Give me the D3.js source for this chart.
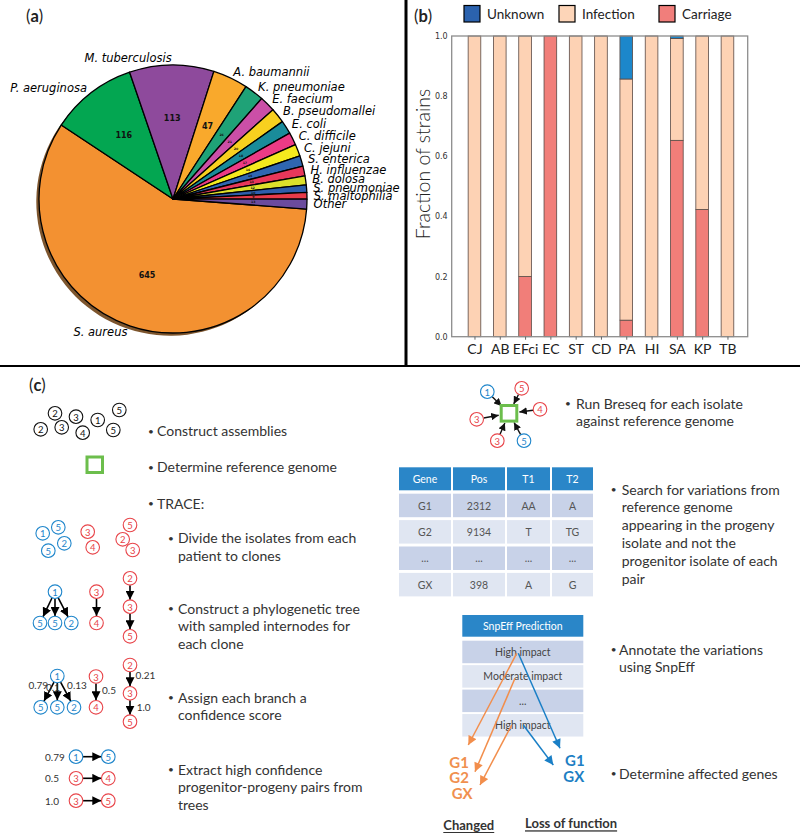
<!DOCTYPE html>
<html><head><meta charset="utf-8">
<script src="https://cdn.jsdelivr.net/npm/d3@7"></script>
<style>body{margin:0;background:#fff}svg{display:block}</style>
</head><body>
<svg id="fig" width="800" height="833"></svg>
<script>
// ---------- DATA ----------
const species = ["S. aureus","P. aeruginosa","M. tuberculosis","A. baumannii","K. pneumoniae","E. faecium","B. pseudomallei","E. coli","C. difficile","C. jejuni","S. enterica","H. influenzae","B. dolosa","S. pneumoniae","S. maltophilia","Other"];
const strainCounts = [645,116,113,47,26,21,20,18,17,16,14,13,12,10,9,13];
const speciesColors = ["#F39131","#03A651","#8E4A9C","#F9A92C","#1FA277","#CB4FA7","#F8D01F","#1A8C9A","#EC3B85","#F5EA1E","#2F67B1","#E8375A","#DCE02B","#2E5EAB","#E83B49","#6B4B9D"];

const barCategories = ["CJ","AB","EFci","EC","ST","CD","PA","HI","SA","KP","TB"];
const carriage  = [0,0,0.20,1,0,0,0.055,0,0.653,0.423,0];
const infection = [1,1,0.80,0,1,1,0.802,1,0.339,0.577,1];
const unknown   = [0,0,0,0,0,0,0.143,0,0.008,0,0];
const seriesNames = ["Unknown","Infection","Carriage"];
const yTicks = [0,0.2,0.4,0.6,0.8,1.0];

const tableHeader = ["Gene","Pos","T1","T2"];
const tableRows = [["G1","2312","AA","A"],["G2","9134","T","TG"],["...","...","...","..."],["GX","398","A","G"]];
const snpEffHeader = "SnpEff Prediction";
const snpEffRows = ["High impact","Moderate impact","...","High impact"];

// ---------- SETUP ----------
const svg = d3.select("#fig");
const BLUE="#1F86CB", RED="#E8454A", ORANGE="#F28E4C", TXT="#333";
const defs = svg.append("defs");
function mk(id,color,w,h){
  defs.append("marker").attr("id",id).attr("viewBox","0 0 10 10").attr("refX",10).attr("refY",5)
    .attr("markerWidth",w).attr("markerHeight",h).attr("markerUnits","userSpaceOnUse").attr("orient","auto")
    .append("path").attr("d","M0,0L10,5L0,10Z").attr("fill",color);
}
mk("ahk","#000",9,9); mk("ahk2","#111",7.5,7.5); mk("aho",ORANGE,10,9); mk("ahb","#1A7FC6",10,9);

// separators
svg.append("line").attr("x1",406).attr("x2",406).attr("y1",0).attr("y2",366).attr("stroke","#000").attr("stroke-width",3);
svg.append("line").attr("x1",0).attr("x2",800).attr("y1",366).attr("y2",366).attr("stroke","#000").attr("stroke-width",2);

function panelLabel(x,y,l){
  const t=svg.append("text").attr("x",x).attr("y",y).attr("font-family","Lato").attr("font-size",16.5).attr("fill","#222");
  t.append("tspan").text("(");t.append("tspan").attr("font-weight","bold").text(l);t.append("tspan").text(")");
}
panelLabel(26,22,"a"); panelLabel(414,22,"b"); panelLabel(29,391,"c");

// ---------- (a) PIE ----------
const pieData = species.map((s,i)=>({name:s,v:strainCounts[i],c:speciesColors[i]}));
const startA = 94.3*Math.PI/180;
const pie = d3.pie().sort(null).value(d=>d.v).startAngle(startA).endAngle(startA+2*Math.PI);
const arcs = pie(pieData);
const R=134, cx=173, cy=199;
const arc = d3.arc().innerRadius(0).outerRadius(R);
svg.append("g").attr("transform",`translate(${cx-2.7},${cy+2.7})`).selectAll("path").data(arcs).join("path")
  .attr("d",arc).attr("fill",d=>d3.color(d.data.c).darker(2.2)).attr("opacity",0.9);
const pg = svg.append("g").attr("transform",`translate(${cx},${cy})`);
pg.selectAll("path").data(arcs).join("path").attr("d",arc).attr("fill",d=>d.data.c)
  .attr("stroke","#000").attr("stroke-width",1.3).attr("stroke-linejoin","round");
pg.selectAll("text.lab").data(arcs).join("text").attr("class","lab")
  .each(function(d){
    const m=(d.startAngle+d.endAngle)/2, x=Math.sin(m)*R*1.05, y=-Math.cos(m)*R*1.05;
    d3.select(this).attr("x",x).attr("y",y).attr("text-anchor",x>0?"start":"end");
  })
  .attr("dominant-baseline","central").attr("font-family","DejaVu Sans").attr("font-style","italic")
  .attr("font-size",11.5).attr("fill","#000").text(d=>d.data.name);
pg.selectAll("text.num").data(arcs).join("text").attr("class","num")
  .each(function(d){
    const m=(d.startAngle+d.endAngle)/2;
    d3.select(this).attr("x",Math.sin(m)*R*0.6).attr("y",-Math.cos(m)*R*0.6);
  })
  .attr("text-anchor","middle").attr("dominant-baseline","central").attr("font-family","DejaVu Sans")
  .attr("font-weight","bold").attr("font-size",d=>d.data.v>=40?8:3.2).attr("fill","#111").text(d=>d.data.v);

// ---------- (b) BARS ----------
const x = d3.scaleLinear().domain([-0.9,10.8]).range([451.7,747.7]);
const y = d3.scaleLinear().domain([0,1]).range([336.7,36]);
const rows = barCategories.map((c,i)=>({cat:c,i,Carriage:carriage[i],Infection:infection[i],Unknown:unknown[i]}));
const barColors = {Carriage:"#F17E79",Infection:"#FDD2B4",Unknown:"#1C87CB"};
const legendColors = {Carriage:"#F17E7B",Infection:"#FDD5B8",Unknown:"#2B62AE"};
const stacked = d3.stack().keys(["Carriage","Infection","Unknown"])(rows);
const bw = x(0.25)-x(-0.25);
const bg = svg.append("g");
stacked.forEach(s=>{
  bg.selectAll(null).data(s.filter(d=>d[1]-d[0]>0)).join("rect")
    .attr("x",d=>x(d.data.i)-bw/2).attr("width",bw).attr("y",d=>y(d[1])).attr("height",d=>y(d[0])-y(d[1]))
    .attr("fill",barColors[s.key]).attr("stroke","#5a4a45").attr("stroke-width",0.8);
});
svg.append("rect").attr("x",451.7).attr("y",36).attr("width",296).attr("height",300.7)
  .attr("fill","none").attr("stroke","#8d8d8d").attr("stroke-width",1.3);
const ya = svg.append("g").attr("transform","translate(451.7,0)")
  .call(d3.axisLeft(y).tickValues(yTicks).tickFormat(d3.format(".1f")).tickSize(0).tickPadding(4));
ya.select(".domain").remove();
ya.selectAll("text").attr("font-family","DejaVu Sans").attr("font-size",8).attr("fill","#333");
const xa = svg.append("g").attr("transform","translate(0,336.7)")
  .call(d3.axisBottom(x).tickValues(d3.range(barCategories.length)).tickFormat(i=>barCategories[i]).tickSize(3).tickPadding(4));
xa.select(".domain").remove();
xa.selectAll("line").attr("stroke","#666");
xa.selectAll("text").attr("font-family","Lato").attr("font-size",14).attr("fill","#222");
svg.append("text").attr("transform","translate(430,164) rotate(-90)").attr("text-anchor","middle")
  .attr("font-family","Lato").attr("font-weight",300).attr("font-size",19.5).attr("fill","#222").text("Fraction of strains");
const lx = [464,559,659];
seriesNames.forEach((n,i)=>{
  svg.append("rect").attr("x",lx[i]).attr("y",5.5).attr("width",16).attr("height",16.5)
    .attr("fill",legendColors[n]).attr("stroke","#000").attr("stroke-width",1.2);
  svg.append("text").attr("x",lx[i]+23).attr("y",14).attr("dominant-baseline","central")
    .attr("font-family","Lato").attr("font-size",13.5).attr("fill","#222").text(n);
});

// ---------- (c) WORKFLOW ----------
const cg = svg.append("g");
function node(x0,y0,t,col,r=6.8){
  cg.append("circle").attr("cx",x0).attr("cy",y0).attr("r",r).attr("fill","#fff").attr("stroke",col).attr("stroke-width",1.1);
  cg.append("text").attr("x",x0).attr("y",y0+0.5).attr("text-anchor","middle").attr("dominant-baseline","central")
    .attr("font-family","Lato").attr("font-size",9.5).attr("fill",col).text(t);
}
function arrow(x1,y1,x2,y2,r1,r2,col,m,w){
  const dx=x2-x1, dy=y2-y1, L=Math.hypot(dx,dy), ux=dx/L, uy=dy/L;
  cg.append("line").attr("x1",x1+ux*r1).attr("y1",y1+uy*r1).attr("x2",x2-ux*r2).attr("y2",y2-uy*r2)
    .attr("stroke",col).attr("stroke-width",w).attr("marker-end",`url(#${m})`);
}
function text(x0,y0,t,opt={}){
  cg.append("text").attr("x",x0).attr("y",y0).attr("dominant-baseline","central")
    .attr("font-family","Lato").attr("font-size",opt.size||14).attr("fill",opt.fill||TXT)
    .attr("font-weight",opt.weight||null).attr("text-anchor",opt.anchor||"start").text(t);
}
function bullet(bx,tx,y0,lines,lh=17.6){
  text(bx,y0,"•",{size:10});
  lines.forEach((l,i)=>text(tx,y0+i*lh,l));
}

// assemblies
const assemblyNodes = [["2",55,413.3],["3",76,416.7],["1",97.7,420],["5",119.3,410],["2",40.7,429.3],["3",61.7,427.3],["4",82.7,432.7],["5",113.3,430]];
assemblyNodes.forEach(d=>node(d[1],d[2],d[0],"#111"));
bullet(148,157,430.7,["Construct assemblies"]);
cg.append("rect").attr("x",87).attr("y",457).attr("width",15.5).attr("height",15.5).attr("fill","#fff").attr("stroke","#6CBE4C").attr("stroke-width",3);
bullet(148,157,466.7,["Determine reference genome"]);
bullet(148,157,503.3,["TRACE:"]);

// clones
const cloneNodes = [["1",42.7,533.3,BLUE],["5",58.3,527.3,BLUE],["5",48.3,550.7,BLUE],["2",64.3,543.3,BLUE],
  ["3",87.7,531.7,RED],["4",92.7,547.3,RED],["5",130,525,RED],["2",122.7,539.3,RED],["3",132.7,550,RED]];
cloneNodes.forEach(d=>node(d[1],d[2],d[0],d[3]));
bullet(168,178,537.7,["Divide the isolates from each","patient to clones"]);

// trees
function tree(b1,kids,r3,r4,chain){
  kids.forEach(k=>arrow(b1[0],b1[1],k[0],k[1],7,7,"#000","ahk",1.6));
  arrow(r3[0],r3[1],r4[0],r4[1],7,7,"#000","ahk",1.6);
  arrow(chain[0][0],chain[0][1],chain[1][0],chain[1][1],7,7,"#000","ahk",1.6);
  arrow(chain[1][0],chain[1][1],chain[2][0],chain[2][1],7,7,"#000","ahk",1.6);
  node(b1[0],b1[1],"1",BLUE); node(kids[0][0],kids[0][1],"5",BLUE); node(kids[1][0],kids[1][1],"5",BLUE); node(kids[2][0],kids[2][1],"2",BLUE);
  node(r3[0],r3[1],"3",RED); node(r4[0],r4[1],"4",RED);
  node(chain[0][0],chain[0][1],"2",RED); node(chain[1][0],chain[1][1],"3",RED); node(chain[2][0],chain[2][1],"5",RED);
}
tree([55,591.7],[[40,623],[55,623],[71.3,623]],[96.5,591.7],[96.5,623],[[130,578.3],[130,606.7],[130,636.3]]);
bullet(168,178,608.3,["Construct a phylogenetic tree","with sampled internodes for","each clone"]);

tree([57.3,676],[[40.7,707.3],[57.3,707.3],[74,707.3]],[96,676.5],[96,707.3],[[130,665],[130,693.3],[130,721.7]]);
const confLabels = [["0.79",38.3,685],["0.1",53,687],["0.13",77,685],["0.5",109,690],["0.21",145.5,675],["1.0",143.7,706.7]];
confLabels.forEach(d=>text(d[1],d[2],d[0],{size:10,anchor:"middle",fill:"#333"}));
bullet(168,178,697.3,["Assign each branch a","confidence score"]);

// pairs
const pairs = [["0.79","1","5",BLUE,BLUE,756.7],["0.5","3","4",RED,RED,778.3],["1.0","3","5",RED,RED,800.7]];
pairs.forEach(p=>{
  text(45,p[5],p[0],{size:10});
  arrow(76,p[5],108.3,p[5],7,7,"#000","ahk",1.6);
  node(76,p[5],p[1],p[3]); node(108.3,p[5],p[2],p[4]);
});
bullet(168,178,769,["Extract high confidence","progenitor-progeny pairs from","trees"]);

// breseq
const sq=[509,413.3];
const bresNodes = [["1",487.3,391.7,BLUE],["5",521.7,388.3,RED],["4",540,409.3,RED],["3",476.7,419.3,RED],["3",497.3,440.7,RED],["5",524,440.7,BLUE]];
bresNodes.forEach(d=>arrow(d[1],d[2],sq[0],sq[1],7,10.5,"#111","ahk2",1.4));
cg.append("rect").attr("x",sq[0]-7.8).attr("y",sq[1]-7.8).attr("width",15.6).attr("height",15.6).attr("fill","#fff").attr("stroke","#6CBE4C").attr("stroke-width",3);
bresNodes.forEach(d=>node(d[1],d[2],d[0],d[3]));
bullet(565,576,403.3,["Run Breseq for each isolate","against reference genome"]);

// variation table
const colX=[399,453,507,552], colW=[52,52,43,41];
const rowY0=467.3, rowStep=26.4;
tableHeader.forEach((h,j)=>{
  cg.append("rect").attr("x",colX[j]).attr("y",rowY0).attr("width",colW[j]).attr("height",23).attr("fill","#2A86C8");
  text(colX[j]+colW[j]/2,rowY0+11.5,h,{size:10.5,anchor:"middle",fill:"#fff"});
});
tableRows.forEach((r,i)=>{
  const yy=rowY0+(i+1)*rowStep;
  r.forEach((v,j)=>{
    cg.append("rect").attr("x",colX[j]).attr("y",yy).attr("width",colW[j]).attr("height",23.5).attr("fill",i%2===0?"#C8D2E8":"#E0E6F2");
    text(colX[j]+colW[j]/2,yy+11.8,v,{size:10.5,anchor:"middle",fill:"#555"});
  });
});
bullet(610.7,621.7,489,["Search for variations from","reference genome","appearing in the progeny","isolate and not the","progenitor isolate of each","pair"],17.9);

// snpEff
const sx=462.3, sw=121;
cg.append("rect").attr("x",sx).attr("y",615).attr("width",sw).attr("height",21.7).attr("fill","#2A86C8");
text(sx+sw/2,626,snpEffHeader,{size:10.5,anchor:"middle",fill:"#fff"});
snpEffRows.forEach((r,i)=>{
  const yy=640.7+i*24.45;
  cg.append("rect").attr("x",sx).attr("y",yy).attr("width",sw).attr("height",22.5).attr("fill",i%2===0?"#C8D2E8":"#E0E6F2");
  text(sx+sw/2,yy+11.3,r,{size:10.5,anchor:"middle",fill:"#444"});
});
const orangeArrows=[[516.7,653.3,468.3,745],[515,678.3,475,771.7],[511.7,725,480,785]];
const blueArrows=[[518.3,653.3,560,748.3],[523.3,725,553.3,765]];
orangeArrows.forEach(a=>arrow(a[0],a[1],a[2],a[3],0,0,ORANGE,"aho",1.5));
blueArrows.forEach(a=>arrow(a[0],a[1],a[2],a[3],0,0,"#1A7FC6","ahb",1.5));
const changedGenes=[["G1",449.3,761.7],["G2",449.3,777.3],["GX",451.7,792.5]];
changedGenes.forEach(g=>text(g[1],g[2],g[0],{size:15,weight:"bold",fill:"#F0904F"}));
const lofGenes=[["G1",565,760],["GX",563.3,775.5]];
lofGenes.forEach(g=>text(g[1],g[2],g[0],{size:15,weight:"bold",fill:"#1E7FC4"}));
bullet(610.7,619,649.3,["Annotate the variations","using SnpEff"]);
bullet(610.7,619,773.3,["Determine affected genes"]);
[["Changed",443.3,825],["Loss of function",525,823.3]].forEach(d=>{
  cg.append("text").attr("x",d[1]).attr("y",d[2]).attr("dominant-baseline","central").attr("font-family","Lato")
    .attr("font-size",13).attr("font-weight","bold").attr("fill","#333").attr("text-decoration","underline").text(d[0]);
});
</script>
</body></html>
